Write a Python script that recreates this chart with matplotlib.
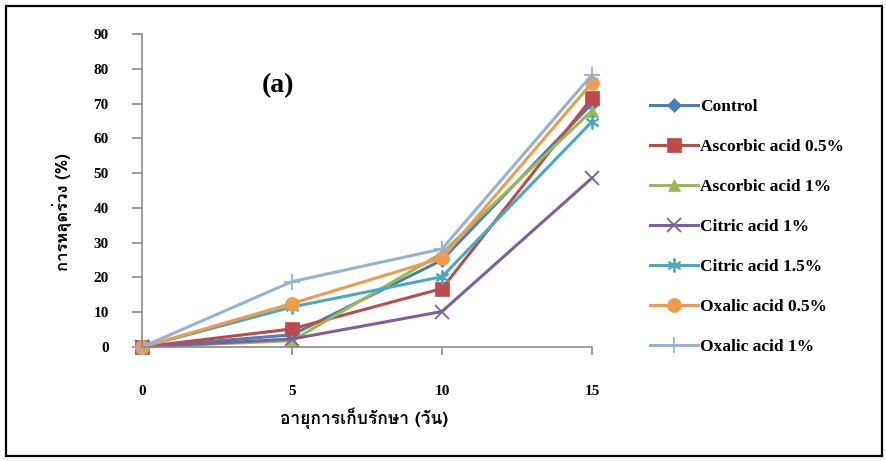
import numpy as np
import matplotlib
matplotlib.use("Agg")
from matplotlib import pyplot as plt
from matplotlib import font_manager
from matplotlib.ft2font import FT2Font
from matplotlib.patches import Rectangle

# data
days = [0, 5, 10, 15]
series_names = ["Control", "Ascorbic acid 0.5%", "Ascorbic acid 1%", "Citric acid 1%",
                "Citric acid 1.5%", "Oxalic acid 0.5%", "Oxalic acid 1%"]
control = [0, 3.5, 25, 70]
ascorbic_05 = [0, 5.2, 16.8, 71.6]
ascorbic_1 = [0, 1.8, 27, 68]
citric_1 = [0, 2.3, 10.2, 48.6]
citric_15 = [0, 11.5, 20.2, 64.8]
oxalic_05 = [0, 12.5, 25.6, 76]
oxalic_1 = [0, 18.8, 28.2, 78.3]
y_ticks = list(range(0, 91, 10))

colors = ["#4A7EBB", "#BE4B48", "#98B954", "#7D60A0", "#46AAC5", "#F39A4A", "#95B3D7"]
markers = ["D", "s", "^", "x", (6, 2, 0), "o", "+"]
msizes = [7, 10, 9, 10, 10, 10, 11]


def find_thai_font():
    # look for an installed font that has Thai glyphs
    for f in font_manager.fontManager.ttflist:
        try:
            cmap = FT2Font(f.fname).get_charmap()
        except Exception:
            continue
        if 0x0E01 in cmap and 0x0E32 in cmap:
            return f.name
    return "DejaVu Sans"


thai_font = find_thai_font()
serif = "Liberation Serif"

fig = plt.figure(figsize=(8.86, 4.61), dpi=100)
W, H = 886, 461

# outer black frame
fig.patches.append(Rectangle((6 / W, 5 / H), 876 / W, 450 / H, transform=fig.transFigure,
                             fill=False, edgecolor="black", linewidth=1.6))

ax = fig.add_axes([142 / W, (H - 347) / H, 450 / W, 313 / H])

all_series = [control, ascorbic_05, ascorbic_1, citric_1, citric_15, oxalic_05, oxalic_1]
for vals, name, c, m, ms in zip(all_series, series_names, colors, markers, msizes):
    ax.plot(days, vals, color=c, marker=m, markersize=ms, linewidth=2.2,
            markeredgewidth=1.3 if m in ("x", "+", (6, 2, 0)) else 0.5,
            markeredgecolor=c, label=name, clip_on=False)

ax.set_xlim(0, 15)
ax.set_ylim(0, 90)
ax.set_xticks(days)
ax.set_yticks(y_ticks)
for s in ("top", "right"):
    ax.spines[s].set_visible(False)
for s in ("left", "bottom"):
    ax.spines[s].set_color("#8c8c8c")
    ax.spines[s].set_linewidth(1.2)
ax.tick_params(axis="x", length=6, width=1.2, color="#8c8c8c", pad=21)
ax.tick_params(axis="y", length=7, width=1.2, color="#8c8c8c", pad=17)
for lab in ax.get_xticklabels() + ax.get_yticklabels():
    lab.set_fontfamily(serif)
    lab.set_fontweight("bold")
    lab.set_fontsize(11)

fig.text(262 / W, (H - 86) / H, "(a)", fontfamily=serif, fontweight="bold", fontsize=20,
         va="center", ha="left")
fig.text(364 / W, (H - 418) / H, "อายุการเก็บรักษา (วัน)", fontfamily=[thai_font, "DejaVu Sans"],
         fontweight="bold", fontsize=12.5, ha="center", va="center")
fig.text(62 / W, (H - 212) / H, "การหลุดร่วง (%)", fontfamily=[thai_font, "DejaVu Sans"],
         fontweight="bold", fontsize=12, ha="center", va="center", rotation=90)

leg = fig.legend(loc="upper left", bbox_to_anchor=(650 / W, (H - 99) / H), frameon=False,
                 prop={"family": serif, "weight": "bold", "size": 12.5},
                 handlelength=2.75, handletextpad=0.12, labelspacing=1.37,
                 borderpad=0, borderaxespad=0)

fig.savefig("out.png", dpi=100)
